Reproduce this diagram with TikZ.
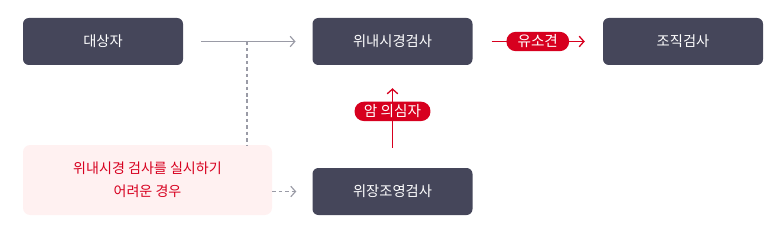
\documentclass[tikz,border=0pt]{standalone}
\usepackage{fontspec}
\setmainfont{Noto Sans CJK KR}
\definecolor{boxDark}{HTML}{45465A}
\definecolor{accentRed}{HTML}{D7001F}
\definecolor{bgPink}{HTML}{FFF1F1}
\definecolor{lineGray}{HTML}{9A9BA6}
\usetikzlibrary{calc, positioning, arrows.meta}

\tikzset{
  stepbox/.style={fill=boxDark, text=white, rounded corners=5pt, minimum width=4.8cm,
                  minimum height=1.41cm, font=\fontsize{12.2}{14}\selectfont},
  notebox/.style={fill=bgPink, text=accentRed, rounded corners=6pt, minimum width=7.47cm,
                  minimum height=2.1cm, align=center, font=\fontsize{12}{14}\selectfont},
  pill/.style={fill=accentRed, text=white, rounded corners=0.28cm, minimum height=0.58cm,
               inner xsep=9.5pt, inner ysep=1pt, font=\fontsize{12.5}{13}\selectfont},
  grayarrow/.style={draw=lineGray, line width=1pt, -{Straight Barb[length=4pt, width=9pt]}},
  redarrow/.style={draw=accentRed, line width=1.1pt, -{Straight Barb[length=4pt, width=9pt]}}
}

\begin{document}
\begin{tikzpicture}
  \useasboundingbox (0,0) rectangle (23.22,-7.02);

  % boxes
  \node[stepbox] (target) at (3.09,-1.245) {대상자};
  \node[stepbox] (endo) at (11.775,-1.245) {위내시경검사};
  \node[stepbox] (biopsy) at (20.49,-1.245) {조직검사};
  \node[stepbox] (ugi) at (11.775,-5.745) {위장조영검사};
  \node[notebox] (hard) at (4.425,-5.4) {위내시경 검사를 실시하기\\[6pt]어려운 경우};

  % connectors
  \draw[grayarrow, shorten <=0.54cm, shorten >=0.5cm] (target) -- (endo);
  \coordinate (split) at (7.41,-1.245);
  \draw[lineGray, line width=1pt, dash pattern=on 3pt off 2.5pt] (split) -- (split |- hard.north);
  \draw[grayarrow, dash pattern=on 3pt off 2.5pt, shorten >=0.48cm] (hard.east |- ugi.west) -- (ugi.west);

  \draw[redarrow, shorten <=0.57cm, shorten >=0.54cm] (endo) -- node[pill] (found) {유소견} (biopsy);
  \draw[redarrow, shorten <=0.6cm, shorten >=0.69cm] (ugi) -- node[pill, pos=0.55, inner xsep=8pt] (suspect) {암 의심자} (endo);
\end{tikzpicture}
\end{document}
